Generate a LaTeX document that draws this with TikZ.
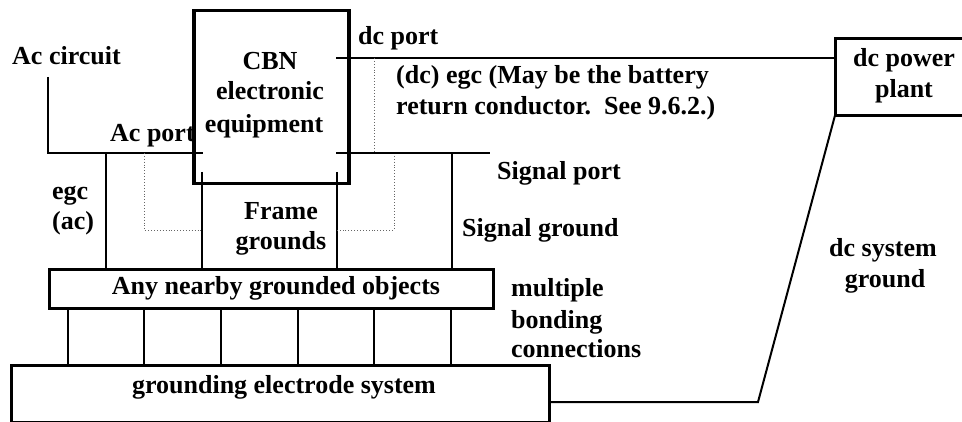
\documentclass[tikz,border=0pt]{standalone}
\usepackage{fontspec}
\setmainfont{Liberation Serif}[BoldFont={Liberation Serif Bold}]
\begin{document}
\begin{tikzpicture}[x=1pt,y=-1pt,
  every node/.style={font=\fontsize{26}{30}\selectfont\bfseries, inner sep=0pt},
  wire/.style={line width=2pt},
  dotwire/.style={line width=0.9pt, dotted, black!60},
  box/.style={draw, line width=3pt, rectangle, anchor=north west, inner sep=0pt},
  openbox/.style={rectangle, anchor=north west, inner sep=0pt},
  lbl/.style={anchor=base west},
  lblc/.style={anchor=base}]
\useasboundingbox (0,0) rectangle (962,422);

% boxes
\node[box, line width=3.5pt, minimum width=155pt, minimum height=173pt] (cbn) at (192,9) {};
\node[box, minimum width=444pt, minimum height=39pt] (near) at (48,268) {};
\node[box, minimum width=538pt, minimum height=57pt] (gnd) at (10,364) {};
\node[openbox, minimum width=127pt, minimum height=76pt] (dcp) at (835,39) {};
\draw[line width=3pt] (dcp.north east) -- (dcp.north west) -- (dcp.south west) -- (dcp.south east);

% texts
\node[lbl] (tac) at (12,65) {Ac circuit};
\node[lblc] (tcbn1) at (270,70) {CBN};
\node[lblc] (tcbn2) at (270,100) {electronic};
\node[lblc] (tcbn3) at (264,133) {equipment};
\node[lbl] (tdc) at (358,45) {dc port};
\node[lbl] (tegc1) at (396,84) {(dc) egc (May be the battery};
\node[lbl] (tegc2) at (396,115) {return conductor.\ \ See 9.6.2.)};
\node[lbl] (tacp) at (110,142) {Ac port};
\node[lbl] (tegc3) at (52,200) {egc};
\node[lbl] (tegc4) at (52,230) {(ac)};
\node[lblc] (tfr1) at (281,220) {Frame};
\node[lblc] (tfr2) at (281,250) {grounds};
\node[lbl] (tsp) at (497,180) {Signal port};
\node[lbl] (tsg) at (462,237) {Signal ground};
\node[lblc] (tnear) at (276,295) {Any nearby grounded objects};
\node[lbl] (tmb1) at (511,297) {multiple};
\node[lbl] (tmb2) at (511,328) {bonding};
\node[lbl] (tmb3) at (511,357) {connections};
\node[lblc] (tds1) at (883,257) {dc system};
\node[lblc] (tds2) at (885,288) {ground};
\node[lblc] (tgnd) at (284,393) {grounding electrode system};
\node[lblc] (tdcp1) at (904,67) {dc power};
\node[lblc] (tdcp2) at (904,98) {plant};

% coordinates
\coordinate (acTop) at (48,77);
\coordinate (acCorner) at (48,153);
\coordinate (acPort) at (203,153);
\coordinate (egcX) at (106,153);
\coordinate (dotL) at (144,153);
\coordinate (dotLc) at (144,230);
\coordinate (frL) at (202,172);
\coordinate (frR) at (337,172);
\coordinate (dotR) at (394,153);
\coordinate (dotRc) at (394,230);
\coordinate (sigIn) at (336,153);
\coordinate (sigEnd) at (490,153);
\coordinate (sgX) at (452,153);
\coordinate (dcOut) at (336,58);
\coordinate (dcDot) at (374,58);
\coordinate (gOut) at (548,402);
\coordinate (gBend) at (758,402);

% wires
\draw[wire] (acTop) -- (acCorner) -- (acPort);
\draw[wire] (egcX) -- (egcX |- near.north);
\draw[dotwire] (dotL) -- (dotLc) -- (dotLc -| frL);
\draw[wire] (frL) -- (frL |- near.north);
\draw[wire] (frR) -- (frR |- near.north);
\draw[dotwire] (dotR) -- (dotRc) -- (dotRc -| frR);
\draw[wire] (sigIn) -- (sigEnd);
\draw[wire] (sgX) -- (sgX |- near.north);
\draw[wire] (dcOut) -- (dcOut -| dcp.west);
\draw[dotwire] (dcDot) -- (dcDot |- sigIn);
\foreach \x [count=\i] in {68,144,221,298,374,451} {
  \coordinate (b\i) at (\x,0);
  \draw[wire] (near.south -| b\i) -- (gnd.north -| b\i);
}
\draw[wire] (gOut) -- (gBend) -- (dcp.south west);
\end{tikzpicture}
\end{document}
